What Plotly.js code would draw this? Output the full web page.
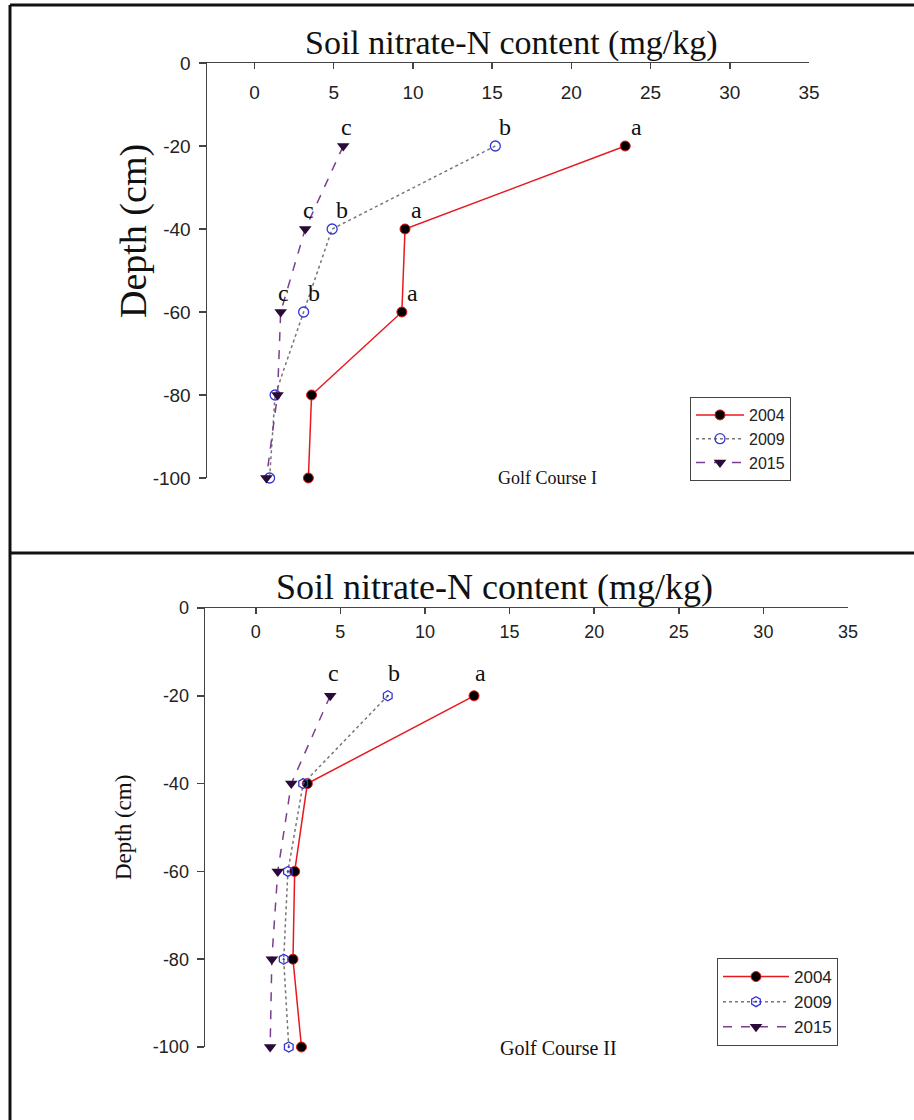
<!DOCTYPE html>
<html>
<head>
<meta charset="utf-8">
<script src="https://cdn.plot.ly/plotly-3.0.1.min.js"></script>
<style>html,body{margin:0;padding:0;background:#fff;}#chart{width:914px;height:1120px;}</style>
</head>
<body>
<div id="chart"></div>
<script>
// ---- data ----
const depth = [-20, -40, -60, -80, -100];
const years = ['2004', '2009', '2015'];
const gc1_2004 = [23.4, 9.5, 9.3, 3.6, 3.4];
const gc1_2009 = [15.2, 4.9, 3.1, 1.3, 0.95];
const gc1_2015 = [5.6, 3.2, 1.65, 1.45, 0.75];
const gc2_2004 = [12.9, 3.05, 2.3, 2.2, 2.7];
const gc2_2009 = [7.8, 2.8, 1.9, 1.65, 1.95];
const gc2_2015 = [4.4, 2.1, 1.3, 0.95, 0.85];
const gc1_letters_2004 = ['a', 'a', 'a', '', ''];
const gc1_letters_2009 = ['b', 'b', 'b', '', ''];
const gc1_letters_2015 = ['c', 'c', 'c', '', ''];
const gc2_letters_2004 = ['a', '', '', '', ''];
const gc2_letters_2009 = ['b', '', '', '', ''];
const gc2_letters_2015 = ['c', '', '', '', ''];
const xTicks = [0, 5, 10, 15, 20, 25, 30, 35];
const xTickText = ['0', '5', '10', '15', '20', '25', '30', '35'];
const yTicks = [0, -20, -40, -60, -80, -100];
const yTickText = ['0', '-20', '-40', '-60', '-80', '-100'];
const xTitle = 'Soil nitrate-N content (mg/kg)';
const yTitle = 'Depth (cm)';
const panelNames = ['Golf Course I', 'Golf Course II'];

// ---- styles ----
const W = 914, H = 1120;
const px = v => v / W, py = v => 1 - v / H;
const serif = 'Liberation Serif, Times New Roman, serif';
const sans = 'Liberation Sans, Arial, sans-serif';
const st = {
  '2004': {line: {color: '#e8191e', width: 1.5, dash: 'solid'}, marker: {symbol: 'circle', size: 10, color: '#000', line: {color: '#e8191e', width: 1}}},
  '2009': {line: {color: '#777', width: 1.5, dash: 'dot'}, marker: {symbol: 'circle-open', size: 10, color: '#3434d8', line: {color: '#3434d8', width: 1.3}}},
  '2015': {line: {color: '#7b3f8f', width: 1.5, dash: 'dash'}, marker: {symbol: 'triangle-down', size: 11, color: '#2a0a38', line: {width: 0}}}
};

const panels = [
  {xa: 'x', ya: 'y', leg: 'legend', vals: [gc1_2004, gc1_2009, gc1_2015], letters: [gc1_letters_2004, gc1_letters_2009, gc1_letters_2015], sym2009: 'circle-open', lshift: [11, 10, 3]},
  {xa: 'x2', ya: 'y2', leg: 'legend2', vals: [gc2_2004, gc2_2009, gc2_2015], letters: [gc2_letters_2004, gc2_letters_2009, gc2_letters_2015], sym2009: 'hexagon-open-dot', lshift: [6, 6, 3]}
];

const traces = [];
const annotations = [];
panels.forEach((p, pi) => {
  years.forEach((yr, i) => {
    const s = JSON.parse(JSON.stringify(st[yr]));
    if (yr === '2009') s.marker.symbol = p.sym2009;
    traces.push({
      x: p.vals[i], y: depth, name: yr, type: 'scatter', mode: 'lines+markers',
      xaxis: p.xa, yaxis: p.ya, legend: p.leg, line: s.line, marker: s.marker, cliponaxis: false
    });
    p.letters[i].forEach((t, k) => {
      if (!t) return;
      annotations.push({text: t, x: p.vals[i][k], y: depth[k], xref: p.xa, yref: p.ya,
        xanchor: 'center', yanchor: 'middle',
        showarrow: false, xshift: p.lshift[i], yshift: pi === 0 ? 19 : 23,
        font: {family: serif, size: 24, color: '#111'}});
    });
  });
});

function paperText(text, x, y, size, angle) {
  return {text: text, xref: 'paper', yref: 'paper', x: px(x), y: py(y), xanchor: 'center', yanchor: 'middle',
    textangle: angle || 0, showarrow: false, font: {family: serif, size: size, color: '#111'}};
}
annotations.push(paperText(xTitle, 511, 43, 34));
annotations.push(paperText(xTitle, 494, 587, 36));
annotations.push(paperText(yTitle, 133, 231, 38, -90));
annotations.push(paperText(yTitle, 123, 828, 23, -90));
annotations.push(paperText(panelNames[0], 547, 478, 18));
annotations.push(paperText(panelNames[1], 558, 1048, 20));

function xAxis(domain, anchor, fs, standoff) {
  return {domain: domain, anchor: anchor, side: 'top', range: [-3, 35], tickvals: xTicks, ticktext: xTickText,
    showline: true, linecolor: '#444', linewidth: 1.5, ticks: 'inside', ticklen: 6, tickcolor: '#444', tickwidth: 1.5,
    ticklabelposition: 'inside', ticklabelstandoff: standoff, ticklabeloverflow: 'allow', showgrid: false, zeroline: false,
    tickfont: {family: sans, size: fs, color: '#222'}};
}
function yAxis(domain, anchor, fs) {
  return {domain: domain, anchor: anchor, range: [-100, 0], tickvals: yTicks, ticktext: yTickText,
    showline: true, linecolor: '#444', linewidth: 1.5, ticks: 'outside', ticklen: 7, tickcolor: '#444', tickwidth: 1.5,
    showgrid: false, zeroline: false, ticklabelstandoff: 4, ticklabeloverflow: 'allow',
    tickfont: {family: sans, size: fs, color: '#222'}};
}

const layout = {
  width: W, height: H, margin: {l: 0, r: 0, t: 0, b: 0}, paper_bgcolor: '#fff', plot_bgcolor: 'rgba(0,0,0,0)',
  showlegend: true,
  xaxis: xAxis([px(207), px(809)], 'y', 19, 18),
  yaxis: yAxis([py(478), py(63)], 'x', 19),
  xaxis2: xAxis([px(205), px(848)], 'y2', 18, 12),
  yaxis2: yAxis([py(1047), py(608)], 'x2', 18),
  legend: {x: px(690), y: py(397), xanchor: 'left', yanchor: 'top', bordercolor: '#444', borderwidth: 1, bgcolor: '#fff',
    font: {family: sans, size: 16, color: '#222'}, traceorder: 'normal', tracegroupgap: 0, itemwidth: 48},
  legend2: {x: px(717), y: py(958), xanchor: 'left', yanchor: 'top', bordercolor: '#444', borderwidth: 1, bgcolor: '#fff',
    font: {family: sans, size: 17, color: '#222'}, traceorder: 'normal', tracegroupgap: 0, itemwidth: 66},
  annotations: annotations,
  shapes: [
    {type: 'line', xref: 'paper', yref: 'paper', x0: px(10), x1: px(10), y0: py(5), y1: 0, line: {color: '#111', width: 3}},
    {type: 'line', xref: 'paper', yref: 'paper', x0: px(10), x1: 1, y0: py(5), y1: py(5), line: {color: '#111', width: 3}},
    {type: 'line', xref: 'paper', yref: 'paper', x0: px(10), x1: 1, y0: py(553), y1: py(553), line: {color: '#111', width: 3}}
  ]
};

Plotly.newPlot('chart', traces, layout, {displayModeBar: false, staticPlot: true});
</script>
</body>
</html>
